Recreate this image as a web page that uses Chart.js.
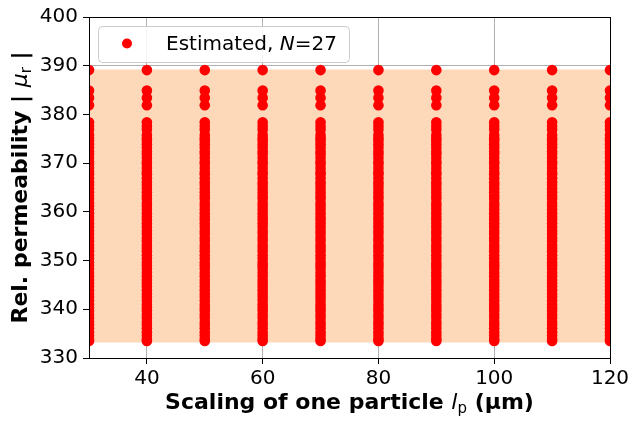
<!DOCTYPE html>
<html>
<head>
<meta charset="utf-8">
<script src="https://cdn.jsdelivr.net/npm/chart.js@4"></script>
<style>
  html, body { margin: 0; padding: 0; background: #fff; }
  #wrap { width: 634px; height: 421px; }
</style>
</head>
<body>
<div id="wrap"><canvas id="permChart" width="634" height="421"></canvas></div>
<script>
// particle scaling l_p (um)
const scalings = [30, 40, 50, 60, 70, 80, 90, 100, 110, 120];
// estimated |mu_r| values, same set at every scaling
const estimates = [389.1, 384.9, 383.4, 381.9,
    378.4, 377.6, 376.9, 375.8, 375.1, 374.6, 373.9, 373.2, 372.4, 371.9,
    371.1, 370.3, 369.8, 369.0, 368.2, 367.7, 366.9, 366.1, 365.5, 364.8,
    364.0, 363.3, 362.7, 361.8, 361.2, 360.5, 359.7, 359.0, 358.4, 357.6,
    356.9, 356.1, 355.5, 354.7, 354.0, 353.2, 352.6, 351.9, 351.1, 350.4,
    349.6, 349.0, 348.3, 347.5, 346.8, 346.0, 345.4, 344.7, 343.9, 343.2,
    342.5, 341.8, 341.0, 340.3, 339.7, 338.9, 338.2, 337.4, 336.8, 336.1,
    335.3, 334.6, 333.9, 333.5];
const bandLow = 333.2;
const bandHigh = 389.2;
const xTicks = [40, 60, 80, 100, 120];
const yTicks = [330, 340, 350, 360, 370, 380, 390, 400];

const points = [];
scalings.forEach(x => estimates.forEach(y => points.push({x: x, y: y})));

const FONT = "'DejaVu Sans', sans-serif";

const extras = {
    id: 'extras',
    afterDraw(chart) {
        const c = chart.ctx, a = chart.chartArea;
        c.save();
        // frame
        c.strokeStyle = '#000';
        c.lineWidth = 1;
        c.strokeRect(a.left + 0.5, a.top + 0.5, a.right - a.left, a.bottom - a.top);

        // legend
        const lx = 98, ly = 26, lw = 251, lh = 36, r = 4;
        c.beginPath();
        c.roundRect(lx + 0.5, ly + 0.5, lw, lh, r);
        c.fillStyle = 'rgba(255,255,255,0.85)';
        c.fill();
        c.strokeStyle = '#cccccc';
        c.stroke();
        c.beginPath();
        c.arc(127, 43.5, 5, 0, Math.PI * 2);
        c.fillStyle = '#ff0000';
        c.fill();
        c.fillStyle = '#000';
        c.textBaseline = 'middle';
        c.textAlign = 'left';
        let tx = 166;
        const ty = 44.5;
        c.font = '20px ' + FONT;
        c.fillText('Estimated, ', tx, ty);
        tx += c.measureText('Estimated, ').width;
        c.font = 'italic 20px ' + FONT;
        c.fillText('N', tx, ty);
        tx += c.measureText('N').width;
        c.font = '20px ' + FONT;
        c.fillText('=27', tx, ty);

        // x title
        const parts = [
            ['bold 22px ' + FONT, 'Scaling of one particle ', 0],
            ['italic 22px ' + FONT, 'l', 0],
            ['15px ' + FONT, 'p', 4],
            ['bold 22px ' + FONT, ' (\u03bcm)', 0]
        ];
        let total = 0;
        parts.forEach(p => { c.font = p[0]; total += c.measureText(p[1]).width; });
        let px = (a.left + a.right) / 2 - total / 2;
        c.textBaseline = 'alphabetic';
        parts.forEach(p => {
            c.font = p[0];
            c.fillText(p[1], px, 409 + p[2]);
            px += c.measureText(p[1]).width;
        });

        // y title
        const yparts = [
            ['bold 22px ' + FONT, 'Rel. permeability | ', 0],
            ['italic 22px ' + FONT, '\u03bc', 0],
            ['15px ' + FONT, 'r', 4],
            ['bold 22px ' + FONT, ' |', 0]
        ];
        total = 0;
        yparts.forEach(p => { c.font = p[0]; total += c.measureText(p[1]).width; });
        c.translate(27, (a.top + a.bottom) / 2);
        c.rotate(-Math.PI / 2);
        px = -total / 2;
        yparts.forEach(p => {
            c.font = p[0];
            c.fillText(p[1], px, p[2]);
            px += c.measureText(p[1]).width;
        });
        c.restore();
    }
};

const ctx = document.getElementById('permChart').getContext('2d');
const permChart = new Chart(ctx, {
    type: 'scatter',
    data: {
        datasets: [
        {
            label: 'Estimated, N=27',
            data: points,
            backgroundColor: '#ff0000',
            borderColor: '#ff0000',
            borderWidth: 0,
            pointRadius: 5.3,
            clip: 0,
            order: 0
        },
        {
            label: 'low',
            type: 'line',
            data: [{x: 30, y: bandLow}, {x: 120, y: bandLow}],
            borderWidth: 0,
            pointRadius: 0,
            order: 2
        },
        {
            label: 'band',
            type: 'line',
            data: [{x: 30, y: bandHigh}, {x: 120, y: bandHigh}],
            borderWidth: 0,
            pointRadius: 0,
            backgroundColor: '#fdd9b9',
            fill: '-1',
            order: 1
        }]
    },
    options: {
        responsive: false,
        animation: false,
        layout: {
            padding: { left: 0, top: 15, right: 24, bottom: 0 }
        },
        scales: {
            x: {
                type: 'linear',
                min: 30,
                max: 120,
                afterFit: (s) => { s.height = 63; },
                afterBuildTicks: (s) => { s.ticks = xTicks.map(v => ({value: v})); },
                grid: {
                    color: '#b0b0b0',
                    tickColor: '#000',
                    tickLength: 6
                },
                border: { color: '#000' },
                ticks: {
                    color: '#000',
                    padding: 3,
                    maxRotation: 0,
                    font: { family: FONT, size: 20 }
                }
            },
            y: {
                min: 330,
                max: 400,
                afterFit: (s) => { s.width = 89; },
                afterBuildTicks: (s) => { s.ticks = yTicks.map(v => ({value: v})); },
                grid: {
                    color: '#b0b0b0',
                    tickColor: '#000',
                    tickLength: 6
                },
                border: { color: '#000' },
                ticks: {
                    color: '#000',
                    padding: 5,
                    font: { family: FONT, size: 20 }
                }
            }
        },
        plugins: {
            legend: { display: false },
            tooltip: { enabled: false }
        }
    },
    plugins: [extras]
});
</script>
</body>
</html>
